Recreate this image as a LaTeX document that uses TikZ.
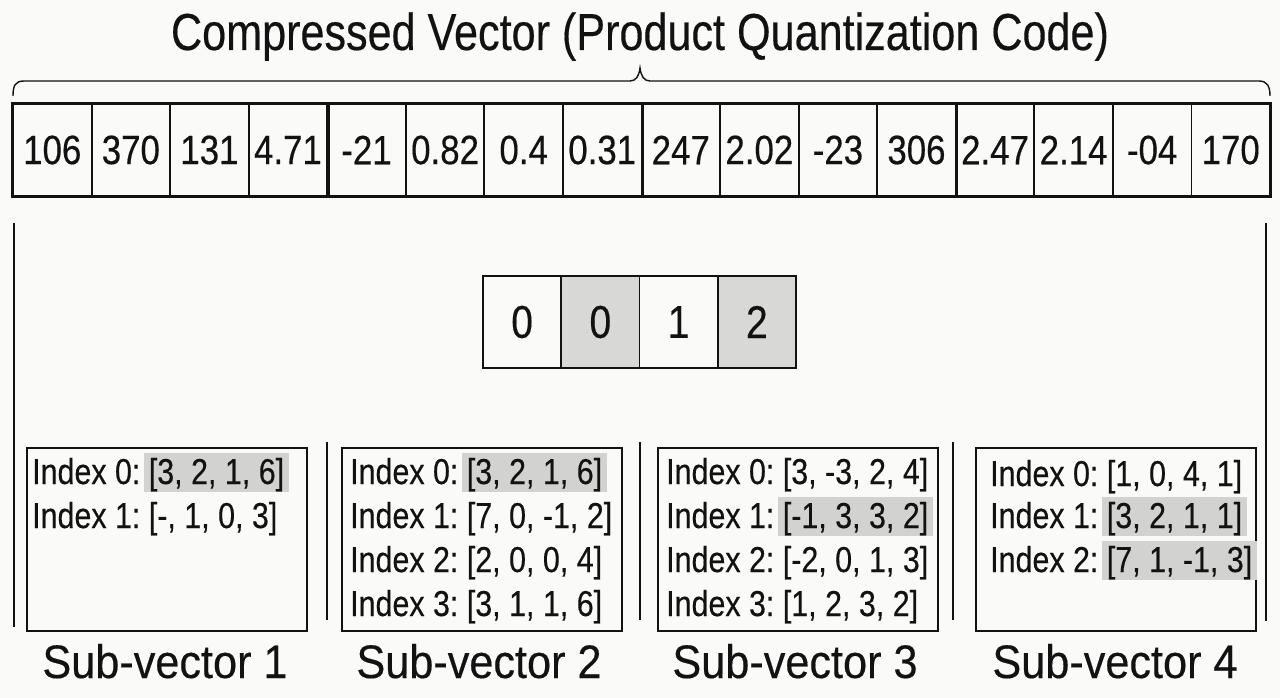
\documentclass[tikz,border=0pt]{standalone}
\usepackage{fontspec}
\setmainfont{Liberation Sans}
\newfontfamily\ftitle[FakeStretch=0.83,FakeBold=0.3]{Liberation Sans}
\newfontfamily\fcell[FakeStretch=0.85,FakeBold=0.35]{Liberation Sans}
\newfontfamily\fcond[FakeStretch=0.845,FakeBold=0.35]{Liberation Sans}
\newfontfamily\flab[FakeStretch=0.92,FakeBold=0.35]{Liberation Sans}
\definecolor{bg}{RGB}{250,250,248}
\definecolor{hl}{RGB}{210,210,208}
\definecolor{cellgray}{RGB}{216,216,214}
\definecolor{ink}{RGB}{18,18,18}
\begin{document}
\begin{tikzpicture}[x=1pt,y=-1pt,
  vcell/.style={draw=ink, line width=1.9pt, minimum width=78.5625pt, minimum height=92pt, inner sep=0pt,
    font=\fcell\fontsize{41}{46}\selectfont, text=ink},
  ccell/.style={draw=ink, line width=1.9pt, minimum width=78.25pt, minimum height=92pt, inner sep=0pt,
    font=\fcell\fontsize{46}{52}\selectfont, text=ink},
  book/.style={draw=ink, line width=1.8pt, minimum width=280pt, minimum height=183pt, inner sep=0pt},
  idx/.style={anchor=base west, inner sep=0pt, font=\fcond\fontsize{36}{42}\selectfont, text=ink},
  vec/.style={anchor=base west, inner xsep=5pt, inner ysep=0pt, text height=31pt, text depth=8pt,
    font=\fcond\fontsize{36}{42}\selectfont, text=ink},
  hlvec/.style={vec, fill=hl},
  sublab/.style={anchor=base, inner sep=0pt, font=\flab\fontsize{47}{52}\selectfont, text=ink},
  sepline/.style={draw=ink, line width=2pt},
  bracepath/.style={draw=ink, line width=1.4pt}
]
\useasboundingbox[fill=bg] (0,0) rectangle (1280,698);

% title
\node[anchor=base, inner sep=0pt, font=\ftitle\fontsize{52}{60}\selectfont, text=ink] (title) at (640,50)
  {Compressed Vector (Product Quantization Code)};

% brace
\draw[bracepath] (13,96) .. controls (13,86) and (15,81) .. (24,81) -- (630,81)
  .. controls (636,81) and (639,76) .. (640,68)
  .. controls (641,76) and (644,81) .. (650,81) -- (1259,81)
  .. controls (1267,81) and (1270,86) .. (1270,96);

% compressed vector
\foreach \t [count=\i] in {106,370,131,4.71,-21,0.82,0.4,0.31,247,2.02,-23,306,2.47,2.14,-04,170}
  \node[vcell] (v\i) at ({13+(\i-0.5)*78.5625},150) {\t};
\draw[draw=ink, line width=2.4pt] (v1.north west) rectangle (v16.south east);
\foreach \k in {4,8,12}
  \draw[draw=ink, line width=3pt] (v\k.north east) -- (v\k.south east);

% outer vertical lines
\coordinate (lt) at (14,223);
\coordinate (lb) at (14,627);
\coordinate (rt) at (1266,223);
\coordinate (rb) at (1266,621);
\draw[sepline] (lt) -- (lb);
\draw[sepline] (rt) -- (rb);

% code
\node[ccell] (c1) at (522.125,322) {0};
\node[ccell, fill=cellgray] (c2) at (600.375,322) {0};
\node[ccell] (c3) at (678.625,322) {1};
\node[ccell, fill=cellgray] (c4) at (756.875,322) {2};

% codebook boxes
\node[book] (cb1) at (167,539.5) {};
\node[book] (cb2) at (482,539.5) {};
\node[book] (cb3) at (798,539.5) {};
\node[book] (cb4) at (1116,539.5) {};

% separators between boxes
\coordinate (s1t) at (327,442); \coordinate (s1b) at (327,620);
\coordinate (s2t) at (640,442); \coordinate (s2b) at (640,620);
\coordinate (s3t) at (953,442); \coordinate (s3b) at (953,620);
\draw[sepline] (s1t) -- (s1b);
\draw[sepline] (s2t) -- (s2b);
\draw[sepline] (s3t) -- (s3b);

% box 1
\node[idx] (a0) at (32,484) {Index 0:};
\node[hlvec] (a0v) at ([xshift=3pt]a0.base east) {[3, 2, 1, 6]};
\node[idx] (a1) at (32,528) {Index 1:};
\node[vec] (a1v) at ([xshift=3pt]a1.base east) {[-, 1, 0, 3]};

% box 2
\node[idx] (b0) at (350,484) {Index 0:};
\node[hlvec] (b0v) at ([xshift=3pt]b0.base east) {[3, 2, 1, 6]};
\node[idx] (b1) at (350,528) {Index 1:};
\node[vec] (b1v) at ([xshift=3pt]b1.base east) {[7, 0, -1, 2]};
\node[idx] (b2) at (350,572) {Index 2:};
\node[vec] (b2v) at ([xshift=3pt]b2.base east) {[2, 0, 0, 4]};
\node[idx] (b3) at (350,616) {Index 3:};
\node[vec] (b3v) at ([xshift=3pt]b3.base east) {[3, 1, 1, 6]};

% box 3
\node[idx] (d0) at (666,484) {Index 0:};
\node[vec] (d0v) at ([xshift=3pt]d0.base east) {[3, -3, 2, 4]};
\node[idx] (d1) at (666,528) {Index 1:};
\node[hlvec] (d1v) at ([xshift=3pt]d1.base east) {[-1, 3, 3, 2]};
\node[idx] (d2) at (666,572) {Index 2:};
\node[vec] (d2v) at ([xshift=3pt]d2.base east) {[-2, 0, 1, 3]};
\node[idx] (d3) at (666,616) {Index 3:};
\node[vec] (d3v) at ([xshift=3pt]d3.base east) {[1, 2, 3, 2]};

% box 4
\node[idx] (e0) at (990,486) {Index 0:};
\node[vec] (e0v) at ([xshift=3pt]e0.base east) {[1, 0, 4, 1]};
\node[idx] (e1) at (990,528) {Index 1:};
\node[hlvec] (e1v) at ([xshift=3pt]e1.base east) {[3, 2, 1, 1]};
\node[idx] (e2) at (990,572) {Index 2:};
\node[hlvec] (e2v) at ([xshift=3pt]e2.base east) {[7, 1, -1, 3]};

% labels
\node[sublab] (l1) at (165,678) {Sub-vector 1};
\node[sublab] (l2) at (479,678) {Sub-vector 2};
\node[sublab] (l3) at (795,678) {Sub-vector 3};
\node[sublab] (l4) at (1115,678) {Sub-vector 4};
\end{tikzpicture}
\end{document}
